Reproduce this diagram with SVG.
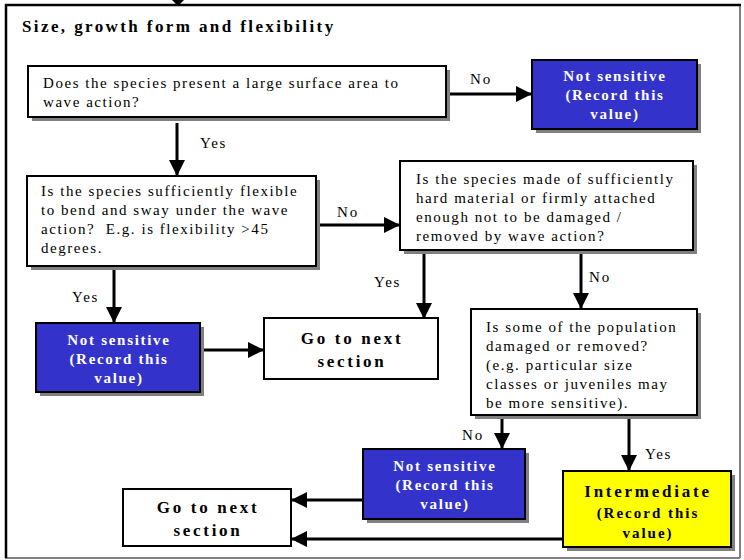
<svg xmlns="http://www.w3.org/2000/svg" width="744" height="560" viewBox="0 0 744 560">
  <style>
    text { font-family: 'Liberation Serif', 'DejaVu Serif', serif; }
    .box { fill: #ffffff; stroke: #000000; stroke-width: 2; }
    .blue { fill: #3333cc; stroke: #000000; stroke-width: 2; }
    .yellow { fill: #ffff00; stroke: #000000; stroke-width: 2; }
    .shadow { fill: #808080; }
    .q { font-size: 15px; letter-spacing: 1.55px; fill: #000000; }
    .lbl { font-size: 15px; letter-spacing: 1.8px; fill: #000000; }
    .ns { font-size: 15px; font-weight: bold; letter-spacing: 1.7px; fill: #ffffff; text-anchor: middle; }
    .go { font-size: 17px; font-weight: bold; letter-spacing: 2.7px; fill: #000000; text-anchor: middle; }
    .im { font-weight: bold; fill: #000000; text-anchor: middle; }
    .title { font-size: 17px; font-weight: bold; letter-spacing: 2.4px; fill: #000000; }
    .conn { stroke: #000000; stroke-width: 3; fill: none; marker-end: url(#arrow); }
  </style>
  <defs>
    <marker id="arrow" markerUnits="userSpaceOnUse" markerWidth="16" markerHeight="16" viewBox="0 0 16 16" refX="15" refY="8" orient="auto">
      <path d="M0,0 L16,8 L0,16 Z" fill="#000000"/>
    </marker>
  </defs>

  <rect x="0" y="0" width="744" height="560" fill="#ffffff"/>

  <!-- section frame -->
  <g id="frame">
    <line x1="740" y1="5" x2="740" y2="558" stroke="#808080" stroke-width="2"/>
    <line x1="5" y1="558" x2="740" y2="558" stroke="#808080" stroke-width="2"/>
    <line x1="5" y1="5" x2="741" y2="5" stroke="#000000" stroke-width="2.5"/>
    <line x1="6" y1="4" x2="6" y2="558" stroke="#000000" stroke-width="2.5"/>
    <path d="M172,0 L184,0 L178,6 Z" fill="#000000"/>
    <text class="title" x="22" y="32">Size, growth form and flexibility</text>
  </g>

  <!-- connectors -->
  <g id="connectors">
    <line class="conn" x1="447" y1="94" x2="531" y2="94"/>
    <line class="conn" x1="177" y1="123" x2="177" y2="175"/>
    <line class="conn" x1="319" y1="225" x2="399" y2="225"/>
    <line class="conn" x1="114" y1="269" x2="114" y2="322"/>
    <line class="conn" x1="201" y1="350" x2="263" y2="350"/>
    <line class="conn" x1="424" y1="254" x2="424" y2="318"/>
    <line class="conn" x1="581" y1="254" x2="581" y2="308"/>
    <line class="conn" x1="502" y1="418" x2="502" y2="448"/>
    <line class="conn" x1="629" y1="419" x2="629" y2="470"/>
    <line class="conn" x1="362" y1="500" x2="292" y2="500"/>
    <line class="conn" x1="562" y1="539" x2="292" y2="539"/>
    <text class="lbl" x="470" y="84">No</text>
    <text class="lbl" x="200" y="148">Yes</text>
    <text class="lbl" x="337" y="217">No</text>
    <text class="lbl" x="72" y="302">Yes</text>
    <text class="lbl" x="374" y="287">Yes</text>
    <text class="lbl" x="589" y="282">No</text>
    <text class="lbl" x="462" y="440">No</text>
    <text class="lbl" x="645" y="459">Yes</text>
  </g>

  <!-- nodes -->
  <g id="q-surface">
    <rect class="shadow" x="32" y="70" width="418" height="51"/>
    <rect class="box" x="28" y="66" width="418" height="51"/>
    <text class="q" x="43" y="88">Does the species present a large surface area to</text>
    <text class="q" x="43" y="107">wave action?</text>
  </g>

  <g id="ns-top">
    <rect class="shadow" x="536" y="64" width="165" height="69"/>
    <rect class="blue" x="532" y="60" width="165" height="69"/>
    <text class="ns" x="615" y="81">Not sensitive</text>
    <text class="ns" x="615" y="100">(Record this</text>
    <text class="ns" x="615" y="119">value)</text>
  </g>

  <g id="q-flexible">
    <rect class="shadow" x="31" y="180" width="289" height="90"/>
    <rect class="box" x="27" y="176" width="289" height="90"/>
    <text class="q" x="41" y="196">Is the species sufficiently flexible</text>
    <text class="q" x="41" y="215">to bend and sway under the wave</text>
    <text class="q" x="41" y="234" xml:space="preserve">action?  E.g. is flexibility &gt;45</text>
    <text class="q" x="41" y="253">degrees.</text>
  </g>

  <g id="q-hard">
    <rect class="shadow" x="404" y="165" width="293" height="89"/>
    <rect class="box" x="400" y="161" width="293" height="89"/>
    <text class="q" x="416" y="184">Is the species made of sufficiently</text>
    <text class="q" x="416" y="203">hard material or firmly attached</text>
    <text class="q" x="416" y="222">enough not to be damaged /</text>
    <text class="q" x="416" y="241">removed by wave action?</text>
  </g>

  <g id="ns-left">
    <rect class="shadow" x="40" y="327" width="164" height="69"/>
    <rect class="blue" x="36" y="323" width="164" height="69"/>
    <text class="ns" x="119" y="345">Not sensitive</text>
    <text class="ns" x="119" y="364">(Record this</text>
    <text class="ns" x="119" y="383">value)</text>
  </g>

  <g id="next-upper">
    <rect class="box" x="264" y="318" width="174" height="61"/>
    <text class="go" x="352" y="344">Go to next</text>
    <text class="go" x="352" y="367">section</text>
  </g>

  <g id="q-population">
    <rect class="shadow" x="475" y="313" width="226" height="106"/>
    <rect class="box" x="471" y="309" width="226" height="106"/>
    <text class="q" x="486" y="332">Is some of the population</text>
    <text class="q" x="486" y="351">damaged or removed?</text>
    <text class="q" x="486" y="370">(e.g. particular size</text>
    <text class="q" x="486" y="389">classes or juveniles may</text>
    <text class="q" x="486" y="408">be more sensitive).</text>
  </g>

  <g id="ns-bottom">
    <rect class="shadow" x="367" y="453" width="162" height="70"/>
    <rect class="blue" x="363" y="449" width="162" height="70"/>
    <text class="ns" x="445" y="471">Not sensitive</text>
    <text class="ns" x="445" y="490">(Record this</text>
    <text class="ns" x="445" y="509">value)</text>
  </g>

  <g id="intermediate">
    <rect class="shadow" x="567" y="475" width="168" height="76"/>
    <rect class="yellow" x="563" y="471" width="168" height="76"/>
    <text class="im" x="648" y="497" font-size="17" letter-spacing="2.75">Intermediate</text>
    <text class="im" x="648" y="518" font-size="15" letter-spacing="2">(Record this</text>
    <text class="im" x="648" y="538" font-size="15" letter-spacing="2">value)</text>
  </g>

  <g id="next-lower">
    <rect class="box" x="123" y="489" width="168" height="57"/>
    <text class="go" x="208" y="513">Go to next</text>
    <text class="go" x="208" y="536">section</text>
  </g>
</svg>
